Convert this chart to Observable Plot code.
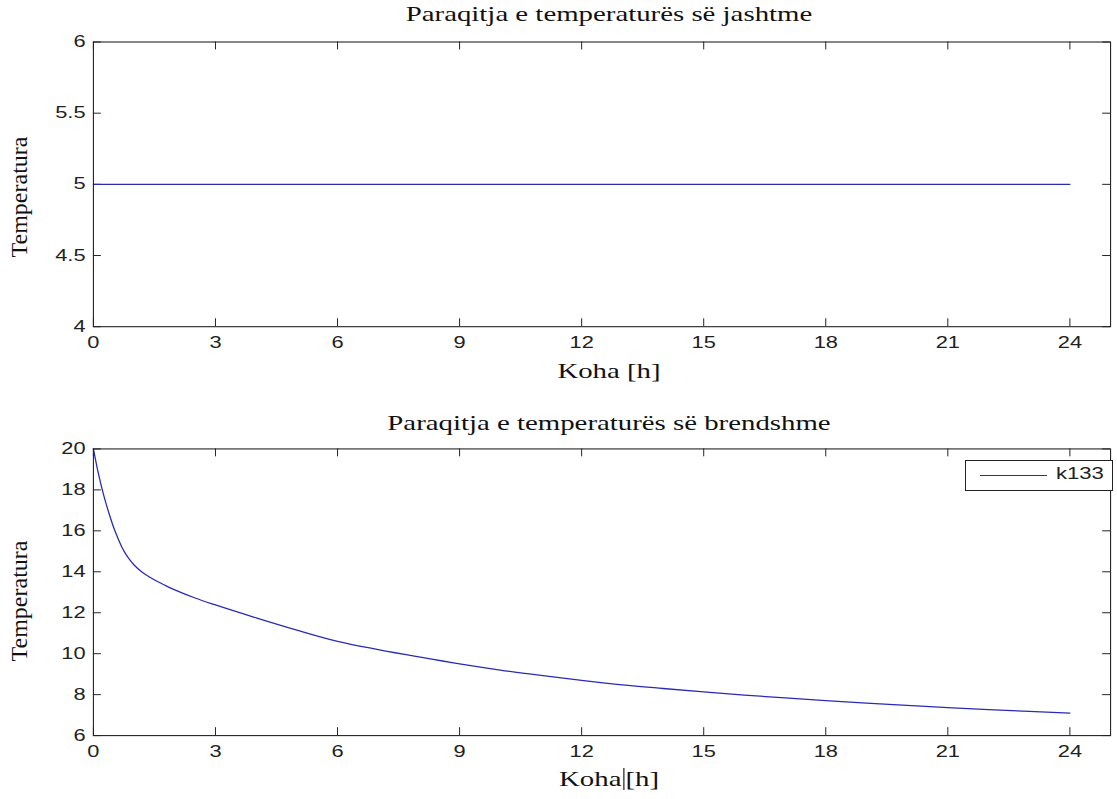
<!DOCTYPE html>
<html>
<head>
<meta charset="utf-8">
<script src="https://cdn.jsdelivr.net/npm/d3@7"></script>
<script src="https://cdn.jsdelivr.net/npm/@observablehq/plot@0.6"></script>
<style>
  html, body { margin: 0; padding: 0; background: #fff; overflow: hidden; }
  #root { position: relative; width: 1117px; height: 799px; overflow: hidden; }
  .fig { position: absolute; left: 0; }
  .serif { position: absolute; font-family: "Liberation Serif", "Times New Roman", serif; font-size: 22px; color: #111; white-space: nowrap; }
  .hz { transform: translateX(-50%) scaleX(1.31); transform-origin: center; }
  .ylab { transform-origin: 0 0; transform: rotate(-90deg) translateX(-50%); font-size: 24px; }
  .legend { position: absolute; background: #fff; border: 1px solid #222; box-sizing: border-box; }
  .legend .swatch { position: absolute; height: 0; border-top: 1.3px solid #2a2ab8; }
  .legend .lab { position: absolute; font-family: "Liberation Sans", Arial, sans-serif; font-size: 16px; color: #222; transform-origin: 0 0; transform: scaleX(1.38); }
  .cursor { display: inline-block; width: 1px; height: 22px; background: #333; vertical-align: -4px; margin: 0 1px; }
</style>
</head>
<body>
<div id="root"></div>
<script>
// ---- data ----
const xTicks = [0, 3, 6, 9, 12, 15, 18, 21, 24];
const yTicksOut = [4, 4.5, 5, 5.5, 6];
const yTicksIn = [6, 8, 10, 12, 14, 16, 18, 20];

const hoursOut = [0, 3, 6, 9, 12, 15, 18, 21, 24];
const tempOut  = [5, 5, 5, 5, 5, 5, 5, 5, 5];

const hoursIn = [0, 0.1, 0.2, 0.3, 0.4, 0.5, 0.6, 0.7, 0.8, 0.9, 1.0, 1.2, 1.4, 1.6, 1.8, 2.0, 2.5, 3, 4, 5, 6, 7, 8, 9, 10, 11, 12, 13, 14, 15, 16, 17, 18, 19, 20, 21, 22, 23, 24];
const tempIn  = [20, 19.0, 18.15, 17.4, 16.75, 16.15, 15.65, 15.2, 14.85, 14.57, 14.33, 13.98, 13.72, 13.5, 13.3, 13.12, 12.72, 12.38, 11.75, 11.15, 10.6, 10.2, 9.84, 9.5, 9.2, 8.94, 8.7, 8.48, 8.3, 8.13, 7.98, 7.84, 7.71, 7.59, 7.48, 7.37, 7.27, 7.18, 7.1];

const seriesName = "k133";
const titleOut = "Paraqitja e temperaturës së jashtme";
const titleIn = "Paraqitja e temperaturës së brendshme";
const xLabel = "Koha [h]";
const yLabel = "Temperatura";

// ---- layout ----
const W = 1130, ML = 94, MR = 7;
const plotW = W - ML - MR;
const lineColor = "#2a2ab8";
const frameColor = "#222";

function stretchText(svg, s) {
  svg.querySelectorAll("text").forEach(el => {
    const t = el.getAttribute("transform") || "";
    const x = +(el.getAttribute("x") || 0);
    el.removeAttribute("x");
    el.setAttribute("transform", `${t} translate(${x},0) scale(${s},1)`);
  });
}

function panel({hours, temps, yDomain, yTicks, height, mt, mb}) {
  const plotH = height - mt - mb;
  const data = hours.map((t, i) => ({t, v: temps[i]}));
  const svg = Plot.plot({
    width: W, height,
    marginLeft: ML, marginRight: MR, marginTop: mt, marginBottom: mb,
    style: {fontFamily: "'Liberation Sans', Arial, sans-serif", fontSize: "16px", color: "#222", background: "#fff"},
    x: {domain: [0, 25]},
    y: {domain: yDomain},
    marks: [
      Plot.axisX({ticks: xTicks, tickSize: 0, tickPadding: 10, label: null, fontSize: 16, tickFormat: d => String(d)}),
      Plot.axisY({ticks: yTicks, tickSize: 0, tickPadding: 8, label: null, fontSize: 16, tickFormat: d => String(d)}),
      Plot.tickX(xTicks, {x: d => d, stroke: frameColor, insetTop: plotH - 8}),
      Plot.tickX(xTicks, {x: d => d, stroke: frameColor, insetBottom: plotH - 8}),
      Plot.tickY(yTicks, {y: d => d, stroke: frameColor, insetRight: plotW - 8}),
      Plot.tickY(yTicks, {y: d => d, stroke: frameColor, insetLeft: plotW - 8}),
      Plot.line(data, {x: "t", y: "v", stroke: lineColor, strokeWidth: 1.3, curve: "monotone-x"}),
      Plot.frame({stroke: frameColor, strokeWidth: 1.1})
    ]
  });
  stretchText(svg, 1.38);
  return svg;
}

const root = document.getElementById("root");

const top1 = panel({hours: hoursOut, temps: tempOut, yDomain: [4, 6], yTicks: yTicksOut, height: 400, mt: 42, mb: 70});
top1.classList.add("fig"); top1.style.top = "0px";
root.appendChild(top1);

const bot = panel({hours: hoursIn, temps: tempIn, yDomain: [6, 20], yTicks: yTicksIn, height: 399, mt: 49, mb: 60});
bot.classList.add("fig"); bot.style.top = "400px";
root.appendChild(bot);

function addText(html, cls, left, top) {
  const d = document.createElement("div");
  d.className = "serif " + cls;
  d.innerHTML = html;
  d.style.left = left + "px";
  d.style.top = top + "px";
  root.appendChild(d);
  return d;
}
const cx = ML + plotW / 2;
addText(titleOut, "hz", cx, 1);
addText(xLabel, "hz", cx, 358);
addText(titleIn, "hz", cx, 410);
addText(xLabel.replace(" ", '<span class="cursor"></span>'), "hz", cx, 766);
addText(yLabel, "ylab", 6, 197);
addText(yLabel, "ylab", 6, 601);

// legend (bottom panel)
const lg = document.createElement("div");
lg.className = "legend";
lg.style.left = "965px"; lg.style.top = "460px"; lg.style.width = "148px"; lg.style.height = "31px";
const sw = document.createElement("div");
sw.className = "swatch";
sw.style.left = "14px"; sw.style.width = "67px"; sw.style.top = "14px";
lg.appendChild(sw);
const lb = document.createElement("div");
lb.className = "lab";
lb.textContent = seriesName;
lb.style.left = "90px"; lb.style.top = "4px";
lg.appendChild(lb);
root.appendChild(lg);
</script>
</body>
</html>
